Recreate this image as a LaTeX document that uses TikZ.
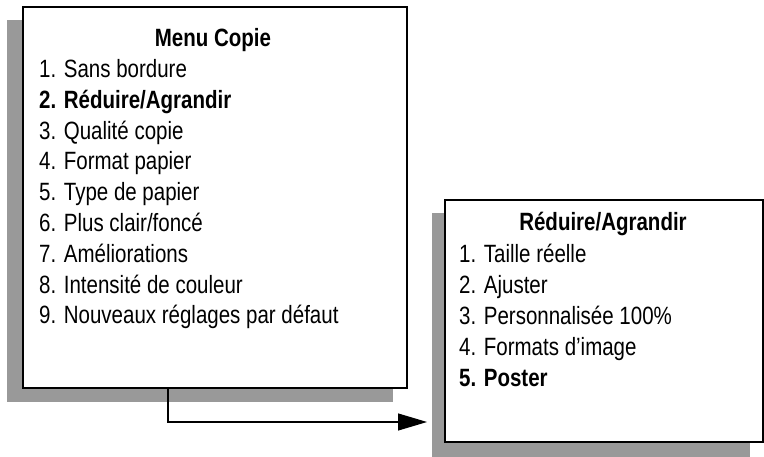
\documentclass[tikz,border=0pt]{standalone}
\usepackage{fontspec}
\setmainfont{Liberation Sans}
\usetikzlibrary{arrows.meta}
\newcommand{\sq}[1]{\scalebox{0.82}[1]{#1}}
\begin{document}
\begin{tikzpicture}[x=1pt,y=-1pt,
  box/.style={draw=black,line width=1.2pt,fill=white},
  shadow/.style={fill=black!40},
  txt/.style={anchor=base west,inner sep=0pt,font=\fontsize{25}{25}\selectfont},
  ttl/.style={anchor=base,inner sep=0pt,font=\fontsize{25}{25}\selectfont\bfseries}]
\useasboundingbox (0,0) rectangle (764,457);
\fill[shadow] (7,20) rectangle (393,402);
\draw[box] (23,7) rectangle (407,388);
\fill[shadow] (432,213) rectangle (750,457);
\draw[box] (445,200) rectangle (763,442);
\node[ttl] (t1) at (213,47) {\sq{Menu Copie}};
\foreach \i/\t in {1/{1. Sans bordure},2/{\textbf{2. Réduire/Agrandir}},3/{3. Qualité copie},4/{4. Format papier},5/{5. Type de papier},6/{6. Plus clair/foncé},7/{7. Améliorations},8/{8. Intensité de couleur},9/{9. Nouveaux réglages par défaut}}
  \node[txt] (a\i) at (39,{77.6+(\i-1)*30.8}) {\sq{\t}};
\node[ttl] (t2) at (603,231) {\sq{Réduire/Agrandir}};
\foreach \i/\t in {1/{1. Taille réelle},2/{2. Ajuster},3/{3. Personnalisée 100\%},4/{4. Formats d'image},5/{\textbf{5. Poster}}}
  \node[txt] (b\i) at (459,{263+(\i-1)*30.8}) {\sq{\t}};
\coordinate (s) at (168,388);
\coordinate (e) at (427,422);
\draw[line width=1.2pt,-{Triangle[length=29pt,width=17pt]}] (s) |- (e);
\end{tikzpicture}
\end{document}
